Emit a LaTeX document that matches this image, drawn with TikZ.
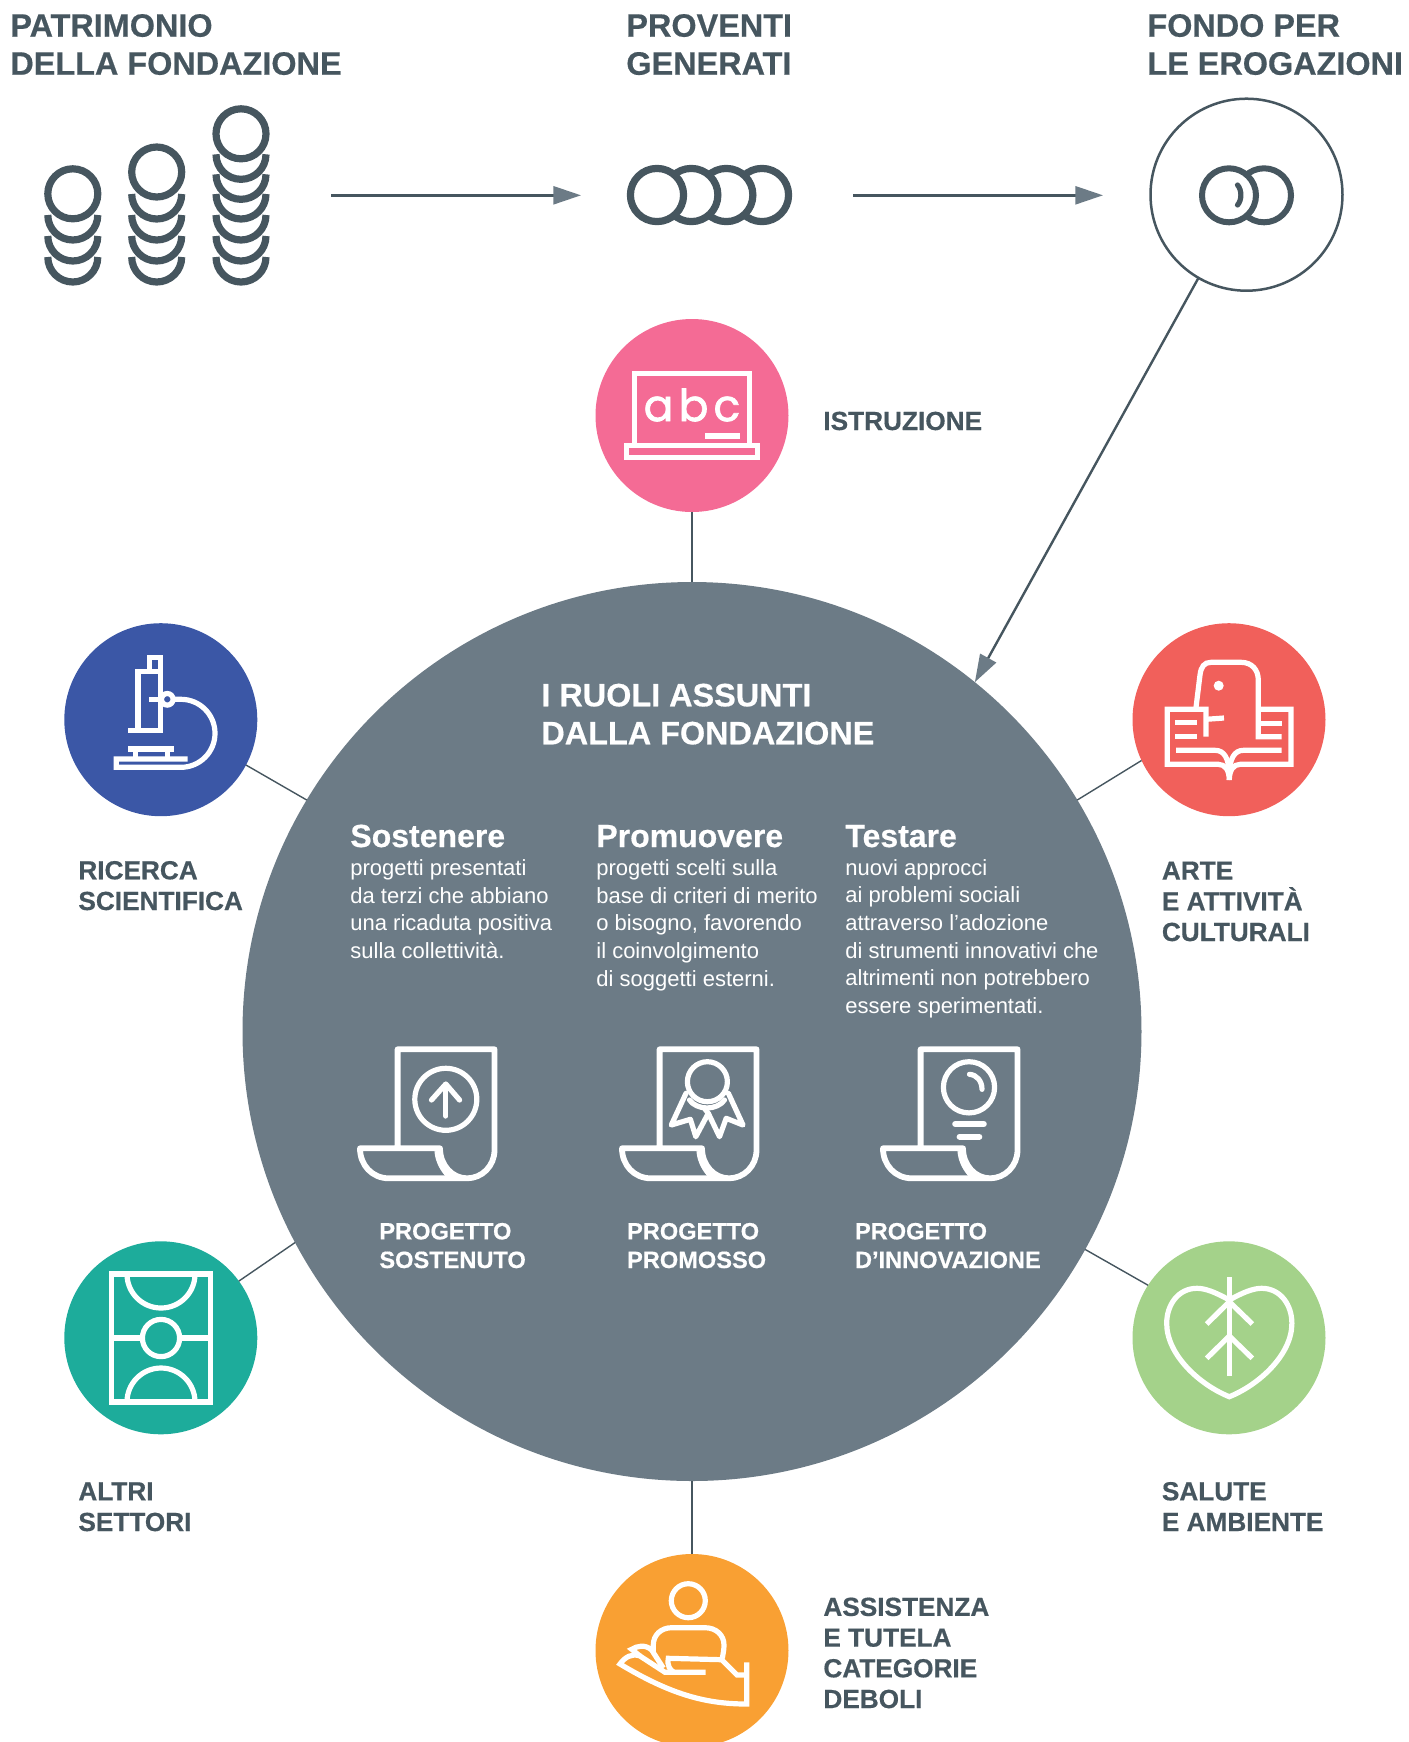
\documentclass[tikz,border=0pt]{standalone}
\usepackage{fontspec}
\usepackage{xcolor}
\usepackage{tikz}
\usetikzlibrary{positioning}
\usetikzlibrary{arrows.meta}
\setmainfont[BoldFeatures={FakeBold=0.5}]{Liberation Sans}
\newfontfamily\boardfont[FakeBold=1.6]{Poppins}
\definecolor{slatedark}{HTML}{46565F}
\definecolor{slategray}{HTML}{6C7B86}
\definecolor{rosefill}{HTML}{F46B95}
\definecolor{bluefill}{HTML}{3B57A6}
\definecolor{redfill}{HTML}{F1605B}
\definecolor{tealfill}{HTML}{1DAC9B}
\definecolor{greenfill}{HTML}{A4D28A}
\definecolor{orangefill}{HTML}{F9A033}

\begin{document}
\begin{tikzpicture}[
x=0.5pt, y=-0.5pt,
sectornode/.style={circle, minimum size=96.5pt, inner sep=0pt, outer sep=0pt},
centernode/.style={circle, fill=slategray, minimum size=449.5pt, inner sep=0pt, outer sep=0pt},
fondonode/.style={circle, draw=slatedark, line width=1.25pt, fill=white, minimum size=96pt, inner sep=0pt, outer sep=0pt},
headnode/.style={anchor=base west, inner sep=0pt, align=left, text=slatedark, font=\fontsize{16.2}{19}\selectfont\bfseries},
titlenode/.style={headnode, text=white},
labelnode/.style={anchor=base west, inner sep=0pt, align=left, text=slatedark, font=\fontsize{13.1}{15.35}\selectfont\bfseries},
rolenode/.style={anchor=base west, inner sep=0pt, text=white, font=\fontsize{16}{19}\selectfont\bfseries},
bodynode/.style={anchor=base west, inner sep=0pt, align=left, text=white, font=\fontsize{11}{13.85}\selectfont},
projectnode/.style={anchor=base west, inner sep=0pt, align=left, text=white, font=\fontsize{11.8}{14.3}\selectfont\bfseries},
flowline/.style={draw=slatedark, line width=1.2pt, -{Triangle[length=13.8pt, width=9pt, color=slategray]}},
linkline/.style={draw=slatedark, line width=0.7pt},
coinline/.style={draw=slatedark, line width=3.6pt},
iconline/.style={draw=white, line width=2.6pt},
roundline/.style={iconline, line cap=round, line join=round},
]
\useasboundingbox (0,0) rectangle (1409,1742);

%Circles
\node[centernode]				(ruoli)			at (692,1031.5)			{};
\node[fondonode]				(fondo)			at (1246.5,194.7)		{};
\node[sectornode, fill=rosefill]	(istruzione)	[above=35pt of ruoli]	{};
\node[sectornode, fill=orangefill]	(assistenza)	[below=36.5pt of ruoli]	{};
\node[sectornode, fill=bluefill]	(ricerca)		at (160.8,719.7)		{};
\node[sectornode, fill=redfill]		(arte)			at (1229,719.7)			{};
\node[sectornode, fill=tealfill]	(altri)			at (160.8,1337.8)		{};
\node[sectornode, fill=greenfill]	(salute)		at (1229,1337.8)		{};

%Arrow ends
\coordinate (patrimonioout)	at (331,195.3);
\coordinate (proventiin)	at (581,195.3);
\coordinate (proventiout)	at (853,195.3);
\coordinate (fondoin)		at (1103,195.3);

%Headings
\node[headnode]		(patrimonio)	at (10,74.7)	{PATRIMONIO\\DELLA FONDAZIONE};
\node[headnode]		(proventi)		at (626,74.7)	{PROVENTI\\GENERATI};
\node[headnode]		(erogazioni)	at (1147,74.7)	{FONDO PER\\LE EROGAZIONI};

%Sector labels
\node[labelnode]	(istruzionetxt)	at (823,430)	{ISTRUZIONE};
\node[labelnode]	(ricercatxt)	at (78,910)		{RICERCA\\SCIENTIFICA};
\node[labelnode]	(artetxt)		at (1161.5,941)	{ARTE\\E ATTIVITÀ\\CULTURALI};
\node[labelnode]	(altritxt)		at (78,1531)	{ALTRI\\SETTORI};
\node[labelnode]	(salutetxt)		at (1161.5,1531)	{SALUTE\\E AMBIENTE};
\node[labelnode]	(assistenzatxt)	at (823,1708)	{ASSISTENZA\\E TUTELA\\CATEGORIE\\DEBOLI};

%Inside the big circle
\node[titlenode]	(ruolitxt)		at (541,744.3)	{I RUOLI ASSUNTI\\DALLA FONDAZIONE};
\node[rolenode]		(sostenere)		at (350,847)	{Sostenere};
\node[rolenode]		(promuovere)	at (596,847)	{Promuovere};
\node[rolenode]		(testare)		at (845,847)	{Testare};
\node[bodynode]		(sostenerebody)		at (350,958.5)	{progetti presentati\\da terzi che abbiano\\una ricaduta positiva\\sulla collettività.};
\node[bodynode]		(promuoverebody)	at (596,986.2)	{progetti scelti sulla\\base di criteri di merito\\o bisogno, favorendo\\il coinvolgimento\\di soggetti esterni.};
\node[bodynode]		(testarebody)		at (845,1013.5)	{nuovi approcci\\ai problemi sociali\\attraverso l’adozione\\di strumenti innovativi che\\altrimenti non potrebbero\\essere sperimentati.};
\node[projectnode]	(sostenuto)		at (379,1268)	{PROGETTO\\SOSTENUTO};
\node[projectnode]	(promosso)		at (626.7,1268)	{PROGETTO\\PROMOSSO};
\node[projectnode]	(innovazione)	at (854.6,1268)	{PROGETTO\\D’INNOVAZIONE};

%Lines
\draw[flowline] (patrimonioout) -- (proventiin);
\draw[flowline] (proventiout) -- (fondoin);
\draw[flowline] (fondo.240) -- (ruoli.51.5);
\draw[linkline] (istruzione) -- (ruoli);
\draw[linkline] (assistenza) -- (ruoli);
\draw[linkline] (ricerca.332) -- (ruoli.149);
\draw[linkline] (arte.205) -- (ruoli.31.4);
\draw[linkline] (altri.36) -- (ruoli.208.8);
\draw[linkline] (salute.147.3) -- (ruoli.331);

%Coins
\foreach \cx/\cy in {72.8/193.8, 156.7/172, 241/133.8}
	\draw[coinline] (\cx,\cy) circle[radius=12.5pt];
\foreach \cy in {215, 236, 257}
	\draw[coinline] (47.8,\cy) arc[start angle=180, end angle=360, radius=12.5pt];
\foreach \cy in {194, 215, 236, 257}
	\draw[coinline] (131.7,\cy) arc[start angle=180, end angle=360, radius=12.5pt];
\foreach \cy in {154.3, 174.3, 194, 215, 236, 257}
	\draw[coinline] (216,\cy) arc[start angle=180, end angle=360, radius=12.5pt];
\foreach \cx in {762, 726.3, 691.3, 657}
	\draw[coinline, fill=white] (\cx,195) circle[radius=13.3pt];
\draw[coinline, line width=3pt] (1264,195.3) circle[radius=13.5pt];
\draw[coinline, line width=3pt, fill=white] (1229,195.3) circle[radius=13.5pt];
\draw[coinline, line width=2.6pt, line cap=round] (1237.5,185) .. controls (1242,190) and (1242,200) .. (1237.5,205);

%Blackboard
\draw[iconline] (634.7,443) -- (634.7,373.3) -- (749.3,373.3) -- (749.3,443);
\draw[iconline] (626.3,445.7) rectangle (757.3,457.3);
\fill[white] (705,433) rectangle (740,439);
\node[text=white, inner sep=0pt, font=\boardfont\fontsize{22}{22}\selectfont] (abc) at (692,405) {a\hspace{2.6pt}b\hspace{2.6pt}c};

%Microscope
\draw[iconline] (149.7,671.3) -- (149.7,657.3) -- (160.3,657.3) -- (160.3,671.3);
\draw[iconline] (138,671.3) rectangle (160.3,730.7);
\draw[iconline] (128.3,730.7) -- (162.7,730.7);
\draw[iconline] (149,699.3) -- (161.8,699.3);
\draw[iconline] (167.3,699.3) circle[radius=2.9pt];
\draw[iconline] (187.7,759) -- (116.3,759) -- (116.3,767.3) -- (181,767.3) arc[start angle=-90, end angle=90, radius=17pt] -- (173,699.3);
\draw[iconline] (128.3,749) -- (174.3,749);
\draw[iconline] (135.7,749) -- (135.7,759);
\draw[iconline] (167.7,749) -- (167.7,759);

%Book and head
\draw[iconline] (1206,736.7) -- (1206,709.3) -- (1167.3,709.3) -- (1167.3,764.3) -- (1218.3,764.3) .. controls (1225,764.3) and (1229.3,770) .. (1229.3,780);
\draw[iconline] (1258.3,709.3) -- (1291,709.3) -- (1291,764.3) -- (1240.3,764.3) .. controls (1233.6,764.3) and (1229.3,770) .. (1229.3,780);
\draw[iconline] (1196,707.5) -- (1200,675) .. controls (1201,667) and (1204,662.3) .. (1211,662.3) -- (1241,662.3) .. controls (1252,662.3) and (1258.3,670) .. (1258.3,680) -- (1258.3,736.7) -- (1281.7,736.7);
\draw[iconline] (1206,719.3) -- (1224,718);
\fill[white] (1218.7,685.7) circle[radius=2.5pt];
\draw[iconline] (1175,722.7) -- (1197.3,722.7);
\draw[iconline] (1175,736.7) -- (1197.3,736.7);
\draw[iconline] (1260.7,723.3) -- (1281.7,723.3);
\draw[iconline] (1176,750.3) -- (1215,750.3) .. controls (1224,750.3) and (1229.3,758) .. (1229.3,776);
\draw[iconline] (1281.7,750.3) -- (1243.6,750.3) .. controls (1234.6,750.3) and (1229.3,758) .. (1229.3,776);

%Football pitch
\draw[iconline] (111.3,1274) rectangle (210.7,1402);
\draw[iconline] (161,1338) circle[radius=9.3pt];
\draw[iconline] (111.3,1338) -- (142.4,1338);
\draw[iconline] (179.6,1338) -- (210.7,1338);
\draw[iconline] (127,1274) arc[start angle=180, end angle=360, radius=17pt];
\draw[iconline] (127,1402) arc[start angle=180, end angle=0, radius=17pt];

%Leaf
\draw[iconline] (1229.3,1277) -- (1229.3,1375.7);
\draw[iconline] (1229.3,1300) .. controls (1215,1292) and (1205,1288.3) .. (1197,1288.3) .. controls (1178,1288.3) and (1166.7,1305) .. (1166.7,1323.3) .. controls (1166.7,1355) and (1200,1385) .. (1229.3,1396.7) .. controls (1258.6,1385) and (1291.9,1355) .. (1291.9,1323.3) .. controls (1291.9,1305) and (1280.6,1288.3) .. (1261.6,1288.3) .. controls (1253.6,1288.3) and (1243.6,1292) .. (1229.3,1300);
\draw[iconline] (1206.7,1324) -- (1229.3,1301.7) -- (1252.3,1324);
\draw[iconline] (1206.7,1358.3) -- (1229.3,1336) -- (1252.3,1358.3);

%Hand and person
\draw[iconline] (688.3,1600.7) circle[radius=8.5pt];
\draw[iconline] (653.3,1652) -- (653.3,1645) .. controls (653.3,1635) and (661,1627.7) .. (671.7,1627.7) -- (705,1627.7) .. controls (716,1627.7) and (724,1635) .. (724,1645) .. controls (724,1650) and (723,1654) .. (722.3,1658.3);
\draw[iconline] (746.7,1662.3) -- (746.7,1704) .. controls (705,1704) and (670,1694) .. (620,1664) .. controls (625,1657) and (632,1653) .. (640,1656) -- (665,1672.3) -- (705.7,1672.3);
\draw[iconline] (746.7,1675) -- (737,1675) -- (721.7,1659.7) -- (668.3,1658.3) .. controls (667,1666) and (670,1670) .. (674,1672.3);
\draw[iconline] (640,1656) -- (631.7,1649.3) .. controls (637,1646) and (645,1644) .. (651.7,1650) -- (663.3,1668);

%Scrolls
\foreach \sx in {0, 262, 523} {
	\draw[roundline, line width=2.9pt] (397.6+\sx,1147.5) -- (397.6+\sx,1049.3) -- (494.5+\sx,1049.3) -- (494.5+\sx,1150) .. controls (494.5+\sx,1166) and (482+\sx,1178.3) .. (467+\sx,1178.3) -- (389+\sx,1178.3) .. controls (372+\sx,1178.3) and (360+\sx,1165) .. (360+\sx,1148.3) -- (440+\sx,1148.3) .. controls (440+\sx,1165) and (452+\sx,1178.3) .. (467+\sx,1178.3);
	\draw[iconline] (437+\sx,1151) .. controls (438+\sx,1162) and (443+\sx,1170) .. (449.4+\sx,1176.7);
}
\draw[roundline] (445.8,1099.3) circle[radius=15.5pt];
\draw[roundline] (445.8,1116) -- (445.8,1085);
\draw[roundline] (431.5,1100) -- (445.8,1084) -- (459.6,1100);
\draw[roundline] (707.4,1081.7) circle[radius=10pt];
\draw[roundline] (686,1093.3) -- (671.3,1125) -- (690.4,1119.3) -- (695.8,1136.7) -- (708.3,1113.3) -- (719.5,1136.7) -- (726.2,1118.3) -- (743,1125) -- (728.4,1093.3);
\draw[roundline] (689.5,1100) .. controls (693,1105) and (700,1108) .. (707,1108) .. controls (714,1108) and (721,1105) .. (724.5,1100);
\draw[roundline] (703.8,1107.5) -- (708.3,1113.3);
\draw[roundline] (969,1087.3) circle[radius=12.8pt];
\draw[roundline] (969.5,1074.3) .. controls (977,1075) and (982,1081) .. (982,1089.3);
\draw[roundline, line width=3pt] (955.2,1124) -- (983.8,1124);
\draw[roundline, line width=3pt] (959.6,1136.7) -- (979.3,1136.7);
\end{tikzpicture}
\end{document}
